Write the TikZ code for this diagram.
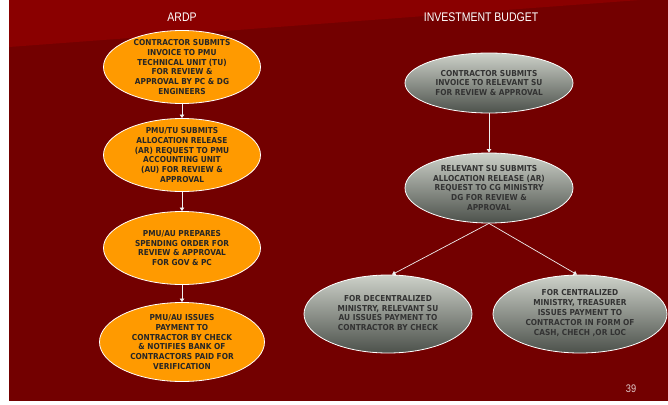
\documentclass[tikz,border=0pt]{standalone}
\usepackage{fontspec}
\setmainfont{DejaVu Sans}
\newfontfamily\titlefont[FakeStretch=0.84]{Liberation Sans}
\newfontfamily\boxfont[FakeStretch=0.9]{DejaVu Sans}
\usetikzlibrary{shapes.geometric,arrows.meta}
\definecolor{bgdark}{HTML}{730000}
\definecolor{bglight}{HTML}{8A0000}
\definecolor{orng}{HTML}{FF9A00}
\definecolor{grytop}{HTML}{CDD1C9}
\definecolor{grymid}{HTML}{B4B8B0}
\definecolor{grybot}{HTML}{4C514B}
\definecolor{numcol}{HTML}{E2CACA}
\begin{document}
\begin{tikzpicture}[
  x=1pt, y=-1pt,
  title/.style={font=\titlefont\fontsize{12.5}{14}\selectfont, text=white},
  lbl/.style={font=\boxfont\bfseries\fontsize{8.2}{9.9}\selectfont, align=center},
  ardp/.style={ellipse, draw=white, line width=0.8pt, fill=orng, inner sep=0pt,
    minimum width=157pt, minimum height=73pt},
  invest/.style={ellipse, draw=white, line width=0.8pt, top color=grytop,
    middle color=grymid, bottom color=grybot, inner sep=0pt, minimum width=168pt},
  arrow/.style={-{Triangle[width=4.5pt,length=3.5pt]}, white!88!gray, line width=0.7pt}
]
  \useasboundingbox (0,0) rectangle (668,404);
  % slide background
  \fill[white] (0,0) rectangle (668,404);
  \fill[bgdark] (9,0) rectangle (668,401);
  \fill[bglight] (9,0) -- (9,47) -- (640,0) -- cycle;

  % column titles
  \node[title] (t1) at (182,17) {ARDP};
  \node[title] (t2) at (481,17) {INVESTMENT BUDGET};

  % ARDP steps
  \node[ardp] (a1) at (182,67) {};
  \node[ardp] (a2) at (182,155) {};
  \node[ardp] (a3) at (182,248) {};
  \node[ardp, minimum width=165pt, minimum height=79pt] (a4) at (182,342) {};
  \node[lbl, text=black!85] at (a1) {CONTRACTOR SUBMITS\\INVOICE TO PMU\\TECHNICAL UNIT (TU)\\FOR REVIEW \&\\APPROVAL BY PC \& DG\\ENGINEERS};
  \node[lbl, text=black!85] at (a2) {PMU/TU SUBMITS\\ALLOCATION RELEASE\\(AR) REQUEST TO PMU\\ACCOUNTING UNIT\\(AU) FOR REVIEW \&\\APPROVAL};
  \node[lbl, text=black!85] at (a3) {PMU/AU PREPARES\\SPENDING ORDER FOR\\REVIEW \& APPROVAL\\FOR GOV \& PC};
  \node[lbl, text=black!85] at (a4) {PMU/AU ISSUES\\PAYMENT TO\\CONTRACTOR BY CHECK\\\& NOTIFIES BANK OF\\CONTRACTORS PAID FOR\\VERIFICATION};

  \draw[arrow] (a1) -- (a2);
  \draw[arrow] (a2) -- (a3);
  \draw[arrow] (a3) -- (a4);

  % investment budget steps
  \node[invest, minimum height=60pt] (b1) at (489,83) {};
  \node[invest, minimum height=70pt] (b2) at (489,188) {};
  \node[invest, minimum height=78pt] (b3) at (388,314) {};
  \node[invest, minimum width=174pt, minimum height=78pt] (b4) at (580,314) {};
  \node[lbl, text=black!80] at (b1) {CONTRACTOR SUBMITS\\INVOICE TO RELEVANT SU\\FOR REVIEW \& APPROVAL};
  \node[lbl, text=black!80] at (b2) {RELEVANT SU SUBMITS\\ALLOCATION RELEASE (AR)\\REQUEST TO CG MINISTRY\\DG FOR REVIEW \&\\APPROVAL};
  \node[lbl, text=black!80] at ([yshift=1pt]b3) {FOR DECENTRALIZED\\MINISTRY, RELEVANT SU\\AU ISSUES PAYMENT TO\\CONTRACTOR BY CHECK};
  \node[lbl, text=black!80] at ([yshift=1pt]b4) {FOR CENTRALIZED\\MINISTRY, TREASURER\\ISSUES PAYMENT TO\\CONTRACTOR IN FORM OF\\CASH, CHECH ,OR LOC};

  \draw[arrow] (b1) -- (b2);
  \draw[arrow] (b2.south) -- ([xshift=4pt]b3.north);
  \draw[arrow] (b2.south) -- ([xshift=-3pt]b4.north);

  % page number
  \node[title, text=numcol, font=\titlefont\fontsize{11}{13}\selectfont] (pg) at (631,389) {39};
\end{tikzpicture}
\end{document}
